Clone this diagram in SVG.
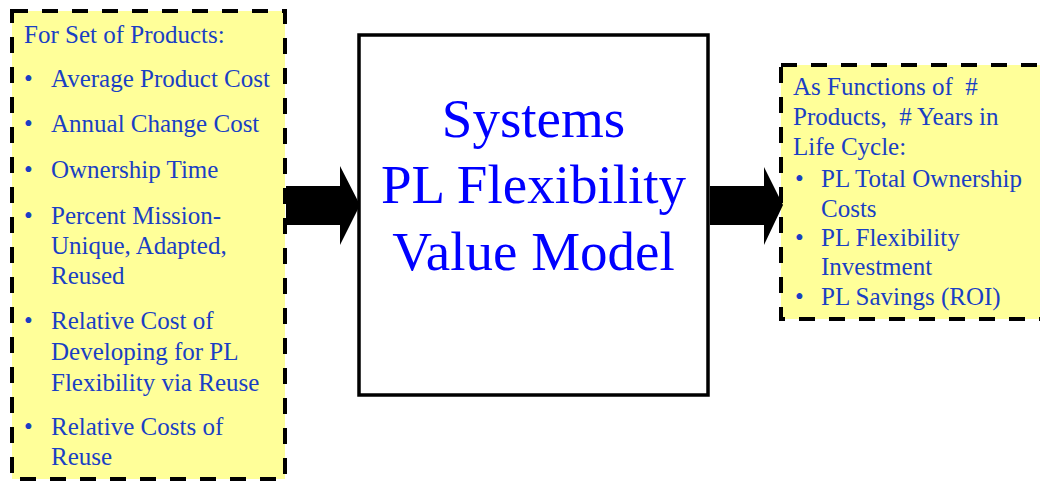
<svg xmlns="http://www.w3.org/2000/svg" width="1040" height="481" viewBox="0 0 1040 481">
<style>
.dash{fill:#ffff99;stroke:#000;stroke-width:4;stroke-dasharray:16 14}
.side{font-family:"Liberation Serif","Times New Roman",serif;font-size:25px;fill:#1a3fc4}
.big{font-family:"Liberation Serif","Times New Roman",serif;font-size:55px;fill:#0000ff;text-anchor:middle}
.arrow{fill:#000}
</style>
<rect width="1040" height="481" fill="#fff"/>
<g id="inputs">
<rect class="dash" x="12" y="11" width="273" height="468"/>
<text class="side" x="24" y="43">For Set of Products:</text>
<g class="side">
<text x="24" y="87">•</text><text x="51" y="87">Average Product Cost</text>
<text x="24" y="132">•</text><text x="51" y="132">Annual Change Cost</text>
<text x="24" y="178">•</text><text x="51" y="178">Ownership Time</text>
<text x="24" y="224">•</text><text x="51" y="224">Percent Mission-</text>
<text x="51" y="254">Unique, Adapted,</text>
<text x="51" y="284">Reused</text>
<text x="24" y="329">•</text><text x="51" y="329">Relative Cost of</text>
<text x="51" y="360">Developing for PL</text>
<text x="51" y="391">Flexibility via Reuse</text>
<text x="24" y="435">•</text><text x="51" y="435">Relative Costs of</text>
<text x="51" y="465">Reuse</text>
</g>
</g>
<g id="model">
<rect x="359" y="35" width="349" height="360" fill="#fff" stroke="#000" stroke-width="3.5"/>
<text class="big" x="533.5" y="137">Systems</text>
<text class="big" x="533.5" y="203">PL Flexibility</text>
<text class="big" x="533.5" y="270">Value Model</text>
</g>
<g id="outputs">
<rect class="dash" x="781" y="65" width="280" height="254"/>
<g class="side">
<text x="793" y="95" xml:space="preserve">As Functions of  #</text>
<text x="793" y="125" xml:space="preserve">Products,  # Years in</text>
<text x="793" y="155">Life Cycle:</text>
<text x="795" y="187">•</text><text x="821" y="187">PL Total Ownership</text>
<text x="821" y="217">Costs</text>
<text x="795" y="246">•</text><text x="821" y="246">PL Flexibility</text>
<text x="821" y="275">Investment</text>
<text x="795" y="305">•</text><text x="821" y="305">PL Savings (ROI)</text>
</g>
</g>
<g id="connectors">
<polygon class="arrow" points="286,186 340,186 340,166 360,205 340,245 340,225 286,225"/>
<polygon class="arrow" points="710,186 764,186 764,167 783,205 764,245 764,225 710,225"/>
</g>
</svg>
